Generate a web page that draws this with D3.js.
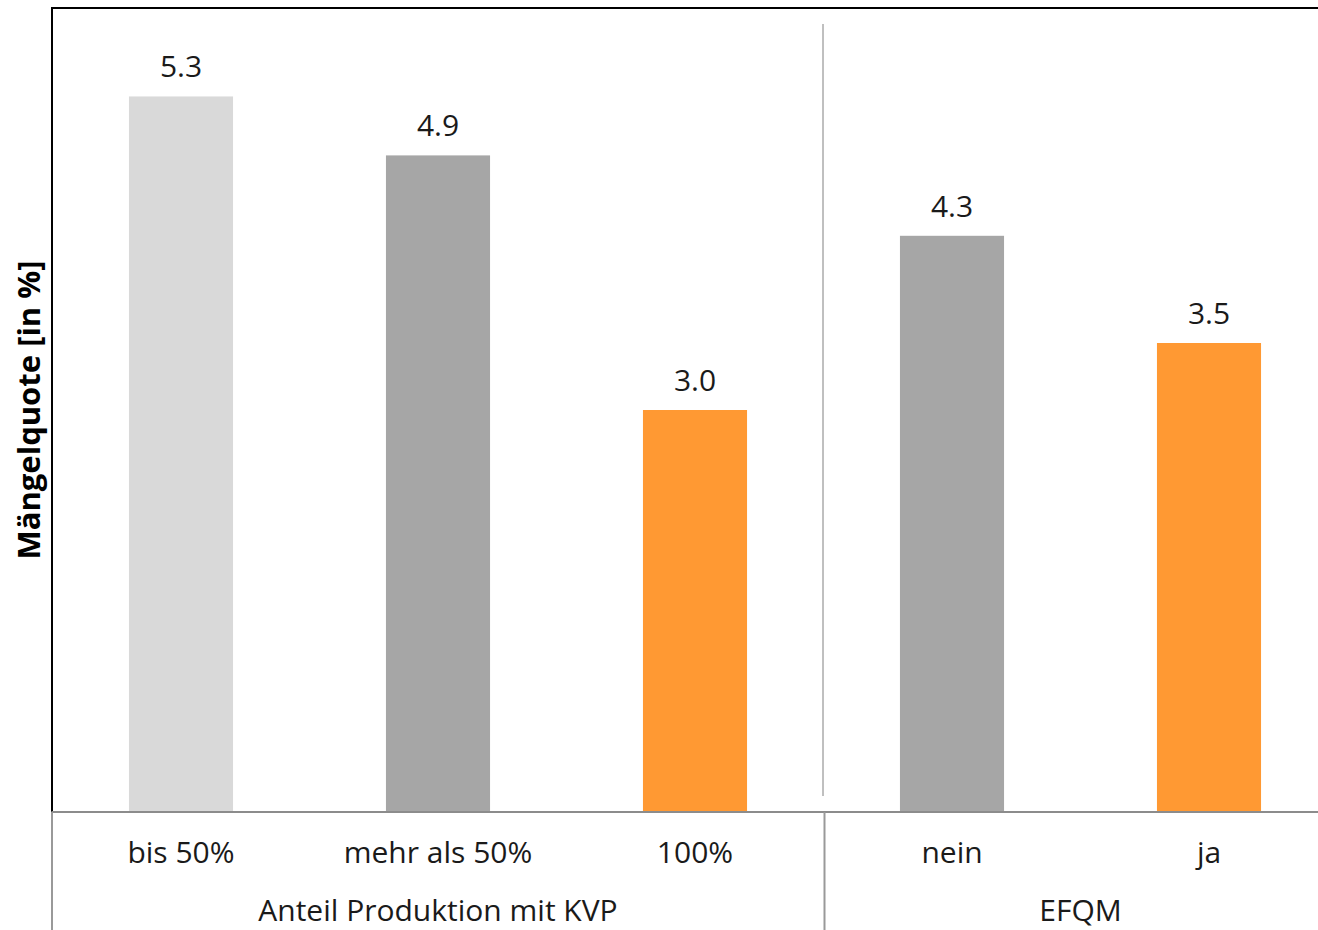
<!DOCTYPE html>
<html><head><meta charset="utf-8">
<script src="https://cdn.jsdelivr.net/npm/d3@7"></script>
<style>html,body{margin:0;padding:0;background:#fff;}svg{display:block;}</style>
</head><body>
<svg id="chart" width="1318" height="930"></svg>
<script>
const categories = ["bis 50%", "mehr als 50%", "100%", "nein", "ja"];
const values = [5.34, 4.9, 3.0, 4.3, 3.5];
const labels = ["5.3", "4.9", "3.0", "4.3", "3.5"];
const barColors = ["#d9d9d9", "#a6a6a6", "#ff9933", "#a6a6a6", "#ff9933"];
const groups = ["Anteil Produktion mit KVP", "EFQM"];
const groupMembers = [["bis 50%", "mehr als 50%", "100%"], ["nein", "ja"]];
const yTitle = "Mängelquote [in %]";

const svg = d3.select("#chart");
const pLeft = 52.5, pRight = 1337.5, pTop = 8, pBase = 812;
const font = "'Open Sans', 'Noto Sans', sans-serif";
const fs = 30, fw = 400;

const x = d3.scaleBand().domain(categories).range([pLeft, pRight])
  .paddingInner(0.595).paddingOuter(0.2975);
const y = d3.scaleLinear().domain([0, 6]).range([pBase, pTop]);

// bars
svg.selectAll("rect.bar").data(categories).join("rect")
  .attr("class", "bar")
  .attr("x", d => x(d))
  .attr("width", x.bandwidth())
  .attr("y", (d, i) => y(values[i]))
  .attr("height", (d, i) => y(0) - y(values[i]))
  .attr("fill", (d, i) => barColors[i]);

// value labels
svg.selectAll("text.val").data(categories).join("text")
  .attr("class", "val")
  .attr("x", d => x(d) + x.bandwidth() / 2)
  .attr("y", (d, i) => y(values[i]) - 19)
  .attr("text-anchor", "middle")
  .attr("font-family", font).attr("font-size", fs).attr("font-weight", fw).attr("fill", "#1a1a1a")
  .text((d, i) => labels[i]);

// frame: top and left
svg.append("line").attr("x1", pLeft - 1).attr("x2", 1318).attr("y1", pTop).attr("y2", pTop)
  .attr("stroke", "#000").attr("stroke-width", 2);
svg.append("line").attr("x1", pLeft - 0.5).attr("x2", pLeft - 0.5).attr("y1", pTop - 1).attr("y2", pBase)
  .attr("stroke", "#000").attr("stroke-width", 2);

// separator inside plot
const step = x.step();
const sepX = x(categories[3]) - (step - x.bandwidth()) / 2;
svg.append("line").attr("x1", sepX - 0.5).attr("x2", sepX - 0.5).attr("y1", 24).attr("y2", 796)
  .attr("stroke", "#808080").attr("stroke-width", 1);

// baseline
svg.append("line").attr("x1", pLeft - 1).attr("x2", 1318).attr("y1", pBase).attr("y2", pBase)
  .attr("stroke", "#8c8c8c").attr("stroke-width", 2);

// vertical lines below axis
[pLeft - 0.5, sepX + 1].forEach(vx => {
  svg.append("line").attr("x1", vx).attr("x2", vx).attr("y1", pBase).attr("y2", 930)
    .attr("stroke", "#999").attr("stroke-width", 2);
});

// category labels
svg.selectAll("text.cat").data(categories).join("text")
  .attr("class", "cat")
  .attr("x", d => x(d) + x.bandwidth() / 2)
  .attr("y", 863)
  .attr("text-anchor", "middle")
  .attr("font-family", font).attr("font-size", fs).attr("font-weight", fw).attr("fill", "#1a1a1a")
  .text(d => d);

// group labels
groups.forEach((g, gi) => {
  const mem = groupMembers[gi];
  const x0 = x(mem[0]) - (step - x.bandwidth()) / 2;
  const x1 = x(mem[mem.length - 1]) + x.bandwidth() + (step - x.bandwidth()) / 2;
  svg.append("text").attr("x", (x0 + x1) / 2).attr("y", 921)
    .attr("text-anchor", "middle")
    .attr("font-family", font).attr("font-size", fs).attr("font-weight", fw).attr("fill", "#1a1a1a")
    .text(g);
});

// y title
svg.append("text")
  .attr("transform", "translate(40," + ((pTop + pBase) / 2) + ") rotate(-90)")
  .attr("text-anchor", "middle")
  .attr("font-family", font).attr("font-size", 31).attr("font-weight", "bold").attr("fill", "#000")
  .text(yTitle);
</script>
</body></html>
